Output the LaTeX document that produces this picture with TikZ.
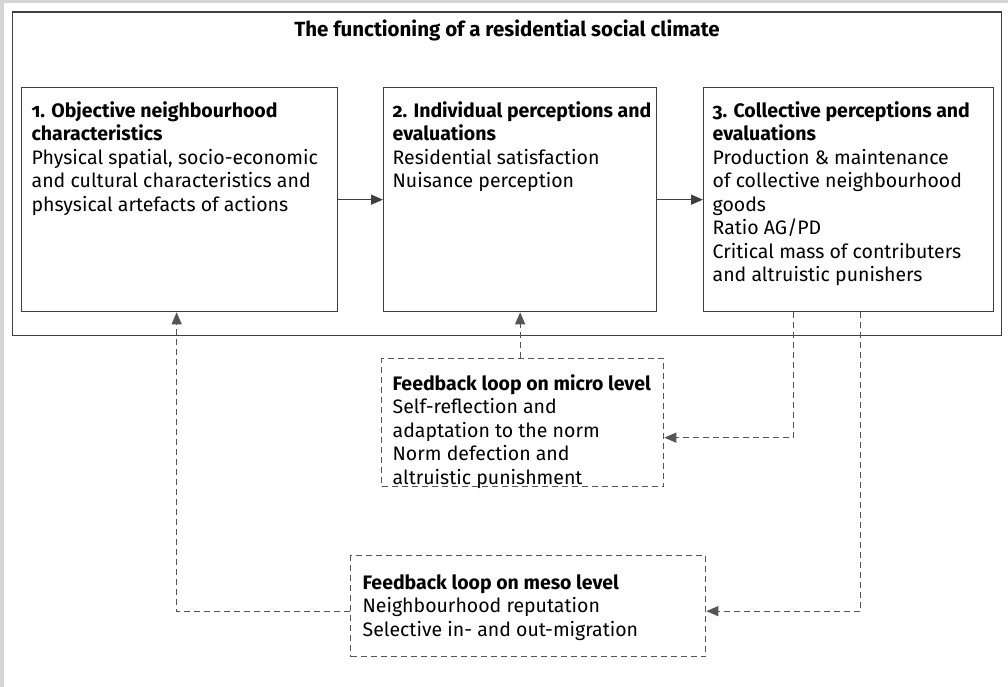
\documentclass[tikz,border=0pt]{standalone}
\usepackage{fontspec}
\setmainfont[Numbers=OldStyle]{Fira Sans}
\usetikzlibrary{arrows.meta}
\definecolor{framegray}{HTML}{D4D4D4}
\definecolor{linegray}{HTML}{3F3F3F}
\definecolor{dashgray}{HTML}{555555}
\tikzset{
    every node/.style={inner sep=0pt, anchor=north west,
    	font=\fontsize{19.5}{23.5}\selectfont}
}
\tikzset{
    stage/.style={draw=linegray, line width=1.3pt},
    loopbox/.style={draw=dashgray, line width=1.3pt, dash pattern=on 6pt off 4pt},
    flow/.style={draw=linegray, line width=1.3pt, -{Triangle[length=12pt,width=10pt]}},
    feedback/.style={flow, draw=dashgray, dash pattern=on 6pt off 4pt}
}
\newcommand{\boxtext}[3]{\parbox[c][#2][t]{#1}{\raggedright #3}}
\newcommand{\head}[1]{\mbox{\bfseries #1}}

\begin{document}
\begin{tikzpicture}[x=1pt, y=-1pt]
	\useasboundingbox (0,0) rectangle (1008,687);
	\fill[framegray] (0,0) rectangle (1008,687);
	\fill[white] (4,3) rectangle (1008,687);

	\node (climate) [stage, minimum width=989pt, minimum height=323.5pt] at (11.5, 11.5) {};
	\node (title) [anchor=base, font=\fontsize{20.5}{24}\selectfont\bfseries] at (507, 37) {The functioning of a residential social climate};

	\node (b1) [stage, inner xsep=10pt, inner ysep=14pt] at (21, 87) {\boxtext{296pt}{196pt}{%
		\head{1. Objective neighbourhood}\\
		\head{characteristics}\\
		Physical spatial, socio-economic\\
		and cultural characteristics and\\
		phsysical artefacts of actions}};
	\node (b2) [stage, inner xsep=9pt, inner ysep=14pt] at (383, 87) {\boxtext{255pt}{196pt}{%
		\head{2. Individual perceptions and}\\
		\head{evaluations}\\
		Residential satisfaction\\
		Nuisance perception}};
	\node (b3) [stage, inner xsep=9pt, inner ysep=14pt] at (703, 87) {\boxtext{272pt}{196pt}{%
		\head{3. Collective perceptions and}\\
		\head{evaluations}\\
		Production \& maintenance\\
		of collective neighbourhood\\
		goods\\
		Ratio AG/PD\\
		Critical mass of contributers\\
		and altruistic punishers}};

	\node (micro) [loopbox, inner xsep=11pt, inner ysep=16pt] at (381, 358) {\boxtext{260pt}{96pt}{%
		\head{Feedback loop on micro level}\\
		Self-reflection and\\
		adaptation to the norm\\
		Norm defection and\\
		altruistic punishment}};
	\node (meso) [loopbox, inner xsep=12pt, inner ysep=19pt] at (350, 555) {\boxtext{331pt}{63pt}{%
		\head{Feedback loop on meso level}\\
		Neighbourhood reputation\\
		Selective in- and out-migration}};

	\draw[flow] (b1.east) -- (b2.west);
	\draw[flow] (b2.east) -- (b3.west);
	\draw[feedback] (b2.south |- micro.north) -- (b2.south);
	\draw[feedback] ([xshift=-55pt]b3.south) |- ([yshift=-15pt]micro.east);
	\draw[feedback] ([xshift=12pt]b3.south) |- ([yshift=-5pt]meso.east);
	\draw[feedback] ([yshift=-5pt]meso.west) -| ([xshift=-3pt]b1.south);
\end{tikzpicture}
\end{document}
